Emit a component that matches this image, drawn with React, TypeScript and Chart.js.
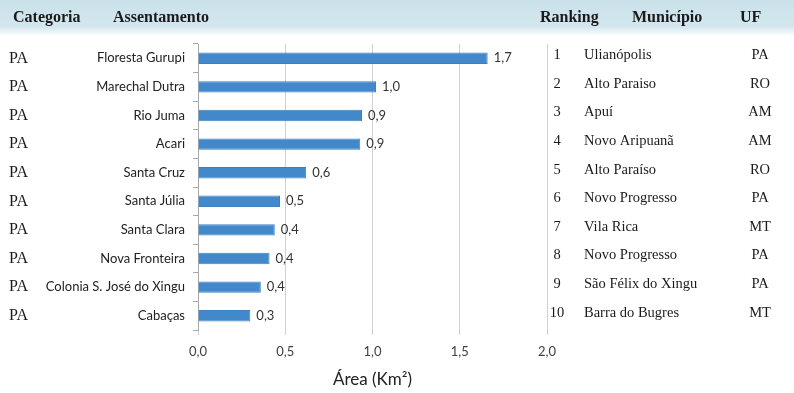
import React, { useEffect, useRef } from "react";
import { Chart, registerables } from "chart.js";

Chart.register(...registerables);

const categories = [
  "Floresta Gurupi",
  "Marechal Dutra",
  "Rio Juma",
  "Acari",
  "Santa Cruz",
  "Santa Júlia",
  "Santa Clara",
  "Nova Fronteira",
  "Colonia S. José do Xingu",
  "Cabaças",
];
const areaValues = [1.66, 1.02, 0.94, 0.93, 0.62, 0.47, 0.44, 0.41, 0.36, 0.3];
const categoriaCol = ["PA", "PA", "PA", "PA", "PA", "PA", "PA", "PA", "PA", "PA"];
const rankingCol = ["1", "2", "3", "4", "5", "6", "7", "8", "9", "10"];
const municipioCol = [
  "Ulianópolis",
  "Alto Paraiso",
  "Apuí",
  "Novo Aripuanã",
  "Alto Paraíso",
  "Novo Progresso",
  "Vila Rica",
  "Novo Progresso",
  "São Félix do Xingu",
  "Barra do Bugres",
];
const ufCol = ["PA", "RO", "AM", "AM", "RO", "PA", "MT", "PA", "PA", "MT"];
const headerLabels = ["Categoria", "Assentamento", "Ranking", "Município", "UF"];
const xTicks = [0, 0.5, 1, 1.5, 2];

const fmt = (v: number) => v.toFixed(1).replace(".", ",");

const SERIF = "'Liberation Serif', 'Times New Roman', serif";
const SANS = "Lato, 'Liberation Sans', sans-serif";

const backgroundPlugin = {
  id: "bgHeader",
  beforeDraw(chart: any) {
    const { ctx, width } = chart;
    ctx.save();
    ctx.fillStyle = "#ffffff";
    ctx.fillRect(0, 0, chart.width, chart.height);
    const g = ctx.createLinearGradient(0, 0, 0, 36);
    g.addColorStop(0, "#cae1ea");
    g.addColorStop(0.75, "#d4e7ee");
    g.addColorStop(1, "#ffffff");
    ctx.fillStyle = g;
    ctx.fillRect(0, 0, width, 36);
    ctx.fillStyle = "#1a1a1a";
    ctx.font = `bold 16px ${SERIF}`;
    ctx.textBaseline = "middle";
    ctx.textAlign = "left";
    const hx = [13, 113, 540, 632, 740];
    headerLabels.forEach((t, i) => ctx.fillText(t, hx[i], 18));
    ctx.restore();
  },
};

const tablesPlugin = {
  id: "tables",
  afterDraw(chart: any) {
    const { ctx } = chart;
    const yScale = chart.scales.y;
    const meta = chart.getDatasetMeta(0);
    ctx.save();
    ctx.textBaseline = "middle";
    // data labels
    ctx.font = `13px ${SANS}`;
    ctx.fillStyle = "#333333";
    ctx.textAlign = "left";
    meta.data.forEach((bar: any, i: number) => {
      ctx.fillText(fmt(areaValues[i]), bar.x + 6, bar.y);
    });
    // left categoria column
    ctx.font = `16px ${SERIF}`;
    ctx.fillStyle = "#1a1a1a";
    categoriaCol.forEach((t, i) => {
      const y = yScale.getPixelForValue(i);
      ctx.textAlign = "left";
      ctx.fillText(t, 9, y);
    });
    // right table
    ctx.font = `14.5px ${SERIF}`;
    rankingCol.forEach((t, i) => {
      const y = yScale.getPixelForValue(i) - 3;
      ctx.textAlign = "center";
      ctx.fillText(t, 557, y);
      ctx.textAlign = "left";
      ctx.fillText(municipioCol[i], 584, y);
      ctx.textAlign = "center";
      ctx.fillText(ufCol[i], 760, y);
    });
    ctx.restore();
  },
};

export default function App() {
  const ref = useRef<HTMLCanvasElement>(null);
  useEffect(() => {
    if (!ref.current) return;
    const chart = new Chart(ref.current, {
      type: "bar",
      data: {
        labels: categories,
        datasets: [
          {
            data: areaValues,
            backgroundColor: "#4289cb",
            borderColor: "#3a80c2",
            borderWidth: 1,
            barPercentage: 0.8,
            categoryPercentage: 0.5,
          },
        ],
      },
      options: {
        indexAxis: "y",
        animation: false,
        responsive: false,
        maintainAspectRatio: false,
        layout: { padding: { left: 0, right: 247, top: 44, bottom: 0 } },
        plugins: {
          legend: { display: false },
          tooltip: { enabled: false },
        },
        scales: {
          x: {
            min: 0,
            max: 2,
            afterBuildTicks: (s: any) => {
              s.ticks = xTicks.map((v) => ({ value: v }));
            },
            afterFit: (s: any) => {
              s.height = 63;
            },
            ticks: {
              callback: (v: any) => fmt(Number(v)),
              color: "#404040",
              font: { family: SANS, size: 13 },
              padding: 9,
            },
            grid: { color: "#d0d0d0", tickLength: 5, lineWidth: 1 },
            border: { display: false },
            title: {
              display: true,
              text: "Área (Km²)",
              color: "#222222",
              font: { family: SANS, size: 17 },
              padding: { top: 0, bottom: 3 },
            },
          },
          y: {
            afterFit: (s: any) => {
              s.width = 198;
            },
            ticks: {
              color: "#222222",
              font: { family: SANS, size: 13 },
              padding: 8,
            },
            grid: { drawOnChartArea: false, tickLength: 5, color: "#a8a8a8", offset: true },
            border: { display: true, color: "#a8a8a8" },
          },
        },
      },
      plugins: [backgroundPlugin, tablesPlugin],
    } as any);
    return () => chart.destroy();
  }, []);
  return (
    <div style={{ position: "fixed", left: 0, top: 0, width: 794, height: 393 }}>
      <canvas ref={ref} width={794} height={393} style={{ width: 794, height: 393, display: "block" }} />
    </div>
  );
}
